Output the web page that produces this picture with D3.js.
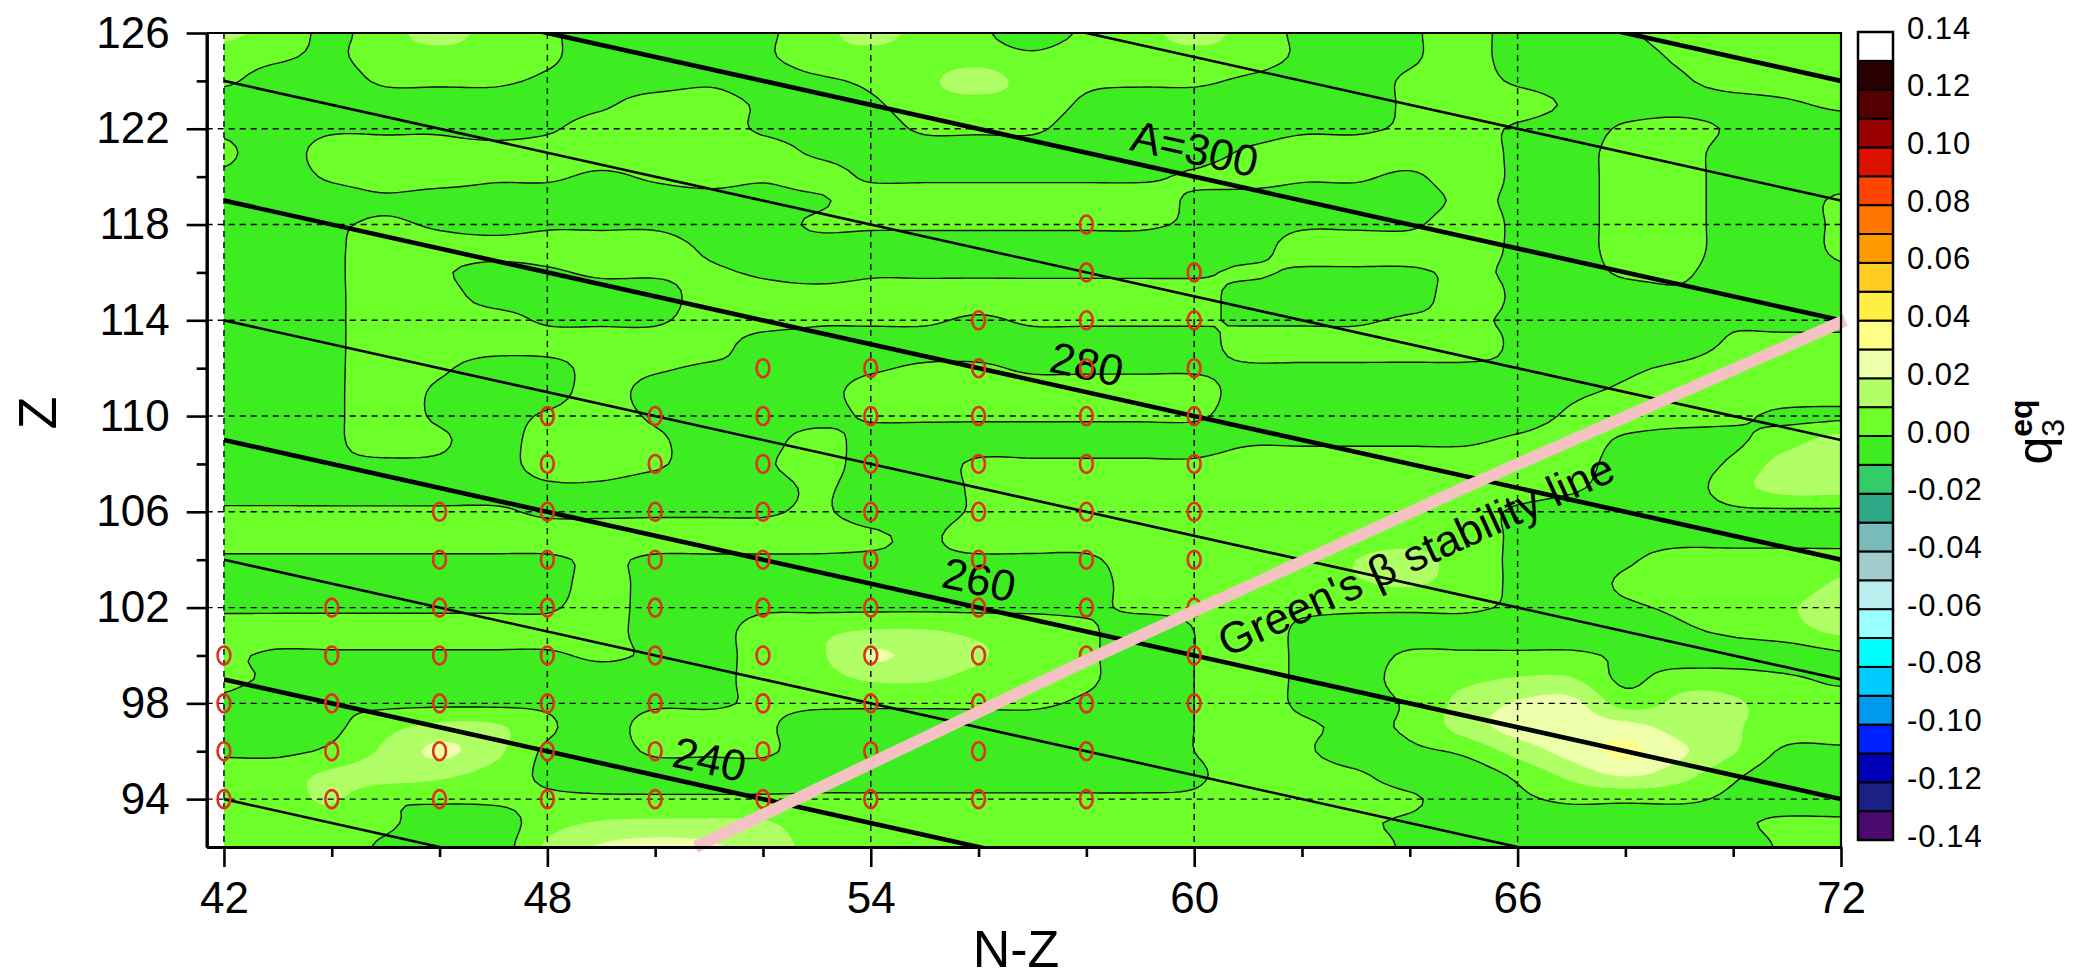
<!DOCTYPE html>
<html>
<head>
<meta charset="utf-8">
<script src="https://cdn.jsdelivr.net/npm/d3@7"></script>
<style>
  body { margin: 0; background: #fff; }
  svg { display: block; }
  text { font-family: "Liberation Sans", Arial, Helvetica, sans-serif; fill: #000; }
</style>
</head>
<body>
<svg id="chart" width="2073" height="979"></svg>
<script>
// ---- grid coordinates of the q3 map ----
const nzColumns = [42,43,44,45,46,47,48,49,50,51,52,53,54,55,56,57,58,59,60,61,62,63,64,65,66,67,68,69,70,71,72];
const zRows = [126,125,124,123,122,121,120,119,118,117,116,115,114,113,112,111,110,109,108,107,106,105,104,103,102,101,100,99,98,97,96,95,94,93,92];

// q3^eq on the (N-Z, Z) grid, in units of 0.001; one row per Z (top row Z = 126)
const q3Rows = [
  [12,6,-2,6,14,6,2,-6,-6,-6,-2,6,14,6,2, -6,2,6,14,6,-2,-6,-2,6,-6,-6,-2,6,6,6,6],
  [6,2,-2,6,6,6,2,-6,-6,-6,-2,6,6,6,6, 2,6,6,6,6,-2,-6,-2,6,-6,-6,-6,2,6,6,6],
  [2,-6,-6,2,2,2,-2,-6,-6,-2,-6,-2,2,8,14, 6,2,2,2,-2,-6,-6,2,6,-2,-6,-6,-2,6,6,6],
  [-6,-6,-6,-6,-6,-6,-6,-2,6,6,-2,-6,-2,6,6, 6,-2,-6,-6,-6,-6,-6,2,6,6,-2,-6,-6,-6,-2,2],
  [-2,-6,-2,-2,-2,-6,-2,6,2,6,-2,-6,-6,2,2, 2,-6,-6,-6,-6,-2,-2,2,6,-2,-6,2,6,-2,-6,-6],
  [2,-6,6,6,6,6,6,6,6,6,6,-2,-6,-6,-6, -6,-6,-6,-6,2,6,6,6,6,-2,-6,6,6,-6,-6,-6],
  [-2,-6,2,6,6,2,2,-2,2,6,2,6,-2,-2,-2, -2,-2,-2,2,6,2,2,-2,6,-2,-6,6,6,-6,-6,-6],
  [-6,-6,-6,-2,-6,-6,-6,-6,-6,-6,-6,-2,6,6,6, 6,6,6,-2,-6,-6,-6,-6,2,-2,-6,6,6,-6,-6,2],
  [-6,-6,-2,2,-2,-6,-2,-2,-2,-6,-6,2,2,2,2, 2,2,2,-2,-6,-2,-2,-2,6,-2,-6,6,6,-6,-6,2],
  [-6,-6,-2,6,6,6,6,6,6,-2,-6,-6,-6,-6,-6, -6,-6,-6,-6,-6,6,6,6,6,-2,-6,6,6,-6,-6,2],
  [-6,-6,-2,6,2,-6,-2,2,2,2,-2,-6,-2,-2,-2, -2,-2,-2,-2,2,-2,-2,-2,2,-2,-6,2,2,-6,-6,-2],
  [-6,-6,-2,6,6,-6,-6,-6,-6,6,6,6,6,6,6, 6,6,6,6,-6,-6,-6,-6,6,-2,-6,-6,-2,-6,-6,-6],
  [-6,-6,-2,6,6,6,-2,-2,-2,6,6,2,2,2,-2, 2,2,2,2,-2,-2,-2,2,2,-2,-6,-6,-6,-2,-6,-6],
  [-6,-6,-2,6,6,6,6,6,6,6,-6,-6,-6,-6,-6, -6,-6,-6,-6,6,6,6,6,6,-2,-6,-6,-6,2,6,6],
  [-6,-6,-2,6,2,-6,-6,6,2,-2,-2,-6,-2,2,2, -2,-2,-2,-2,-2,-2,-2,-2,-2,-2,-6,-2,2,6,6,6],
  [-6,-6,-2,6,-2,-6,-6,6,-6,-6,-6,-6,6,6,6, 6,6,6,6,-6,-6,-6,-6,-6,-6,-2,2,6,6,6,6],
  [-6,-6,-2,6,-2,-6,2,6,-2,-6,-6,-6,2,2,2, 2,2,2,2,-6,-6,-6,-6,-6,-6,2,6,6,2,-2,-2],
  [-6,-6,-2,6,2,-6,6,6,2,-6,-6,6,-6,-6,-6, -6,-6,-6,-6,-2,-2,-2,-2,-2,2,6,-2,-6,-2,6,14],
  [-6,-6,-2,-2,-2,-6,6,6,2,-6,-2,6,-6,-6,2, 2,2,2,2,6,6,6,6,6,6,6,-6,-6,2,14,16],
  [-6,-6,-6,-6,-6,-6,-2,-2,-6,-6,-6,2,-6,-6,2, 6,6,6,6,6,6,6,6,6,6,2,-6,-6,6,14,14],
  [2,2,2,2,2,2,-2,-2,-2,-2,-2,2,-6,-6,2, 6,6,6,6,6,6,6,6,6,-2,-6,-6,-6,-2,-2,-2],
  [6,6,6,6,6,6,6,6,6,6,6,6,2,-2,6, 6,6,6,6,6,6,6,6,6,-2,-6,-6,-6,-6,-6,-6],
  [-2,-2,-2,-2,-2,-2,-2,2,-2,-2,-2,-2,-2,-2,-2, -2,-2,6,6,6,6,10,13,6,-2,-6,-2,6,6,6,6],
  [-6,-6,-6,-6,-6,-6,-6,6,-6,-6,-6,-6,-6,-6,-6, -6,-6,6,6,6,6,9,11,6,-2,-6,2,6,6,6,11],
  [-2,-2,-2,-2,-2,-2,-2,6,-6,-6,-2,-2,-2,-2,-2, -2,-2,2,2,2,2,2,2,2,-2,-6,-2,2,6,9,14],
  [6,6,6,6,6,6,6,6,-6,-6,6,8,11,11,8, 6,2,-6,0,6,-2,-6,-6,-6,-6,-6,-6,-2,2,6,12],
  [2,-2,-2,-2,-2,-2,-2,2,-2,-6,6,8,21,16,11, 6,2,-6,0,6,-2,-6,2,2,2,2,-2,-6,-6,-6,-2],
  [2,-2,-6,-6,-6,-6,-6,-6,-6,-6,6,6,11,11,7, 6,2,-6,0,6,-2,-6,6,8,11,11,-2,6,6,2,-2],
  [-2,-6,-2,-2,-2,-2,-2,-6,-2,-2,2,2,2,2,2, 2,-2,-6,0,6,-2,-6,2,13,21,23,6,12,11,6,6],
  [-6,-6,-2,7,13,12,2,-6,6,6,2,-6,-6,-6,-6, -6,-6,-6,0,6,2,-2,2,14,24,25,24,16,11,6,6],
  [-2,-2,2,12,22,13,-2,-6,2,2,2,-6,-6,-6,-6, -6,-6,-6,0,6,2,-6,-2,2,14,24,32,22,11,-2,-2],
  [6,6,12,14,12,6,-2,-6,-6,-6,-6,-6,-6,-6,-6, -6,-6,-6,-2,6,6,2,-6,-6,2,13,21,14,2,-6,-6],
  [6,6,11,2,2,2,2,2,2,2,2,2,2,2,2, 2,2,2,2,6,6,6,2,-6,-2,2,2,2,-2,-6,-6],
  [6,6,6,2,-6,-6,6,11,12,12,11,6,6,6,6, 6,6,6,6,6,6,2,-2,-6,-6,-6,-6,-6,-2,2,2],
  [6,6,6,-2,-6,-6,12,21,24,22,14,8,6,6,6, 6,6,6,6,6,6,6,-2,-6,-6,-6,-6,-6,-6,2,6]
];

// colour scale: one colour per 0.01-wide level from -0.14 to 0.14
const levelColors = [
  "#4b0a6e","#1b2085","#0000b8","#0022ff","#0099ee","#00ccff","#00ffff",
  "#99ffff","#bbeeee","#a0cccc","#77bbbb","#2fa888","#33cc66","#3ded22",
  "#6cff2a","#b0ff66","#eeffaa","#ffff88","#ffee44","#ffcc22","#ff9900",
  "#ff7700","#ff4400","#dd1100","#990000","#550000","#2a0000","#ffffff"
];
const colorbarTicks = [-0.14,-0.12,-0.10,-0.08,-0.06,-0.04,-0.02,0.00,0.02,0.04,0.06,0.08,0.10,0.12,0.14];

// axes
const xMajorTicks = [42,48,54,60,66,72];
const xMinorTicks = [44,46,50,52,56,58,62,64,68,70];
const zMajorTicks = [94,98,102,106,110,114,118,122,126];
const zMinorTicks = [96,100,104,108,112,116,120,124];

// lines of constant mass number A = N + Z
const massNumbers = [230,240,250,260,270,280,290,300,310,320];
const massLabels = [
  { a: 300, nz: 59.9, text: "A=300" },
  { a: 280, nz: 57.9, text: "280" },
  { a: 260, nz: 55.9, text: "260" },
  { a: 240, nz: 50.9, text: "240" }
];

// Green's beta-stability line (N-Z, Z)
const greenLine = [[50.75, 92], [58.2, 100], [65.0, 107], [72.08, 114]];
const greenLabel = { nz: 63.8, text: "Green's \u03b2 stability line" };

// nuclei with computed q3: N-Z column and its Z values
const nucleiColumns = [
  { nz: 42, z: [94,96,98,100] },
  { nz: 44, z: [94,96,98,100,102] },
  { nz: 46, z: [94,96,98,100,102,104,106] },
  { nz: 48, z: [94,96,98,100,102,104,106,108,110] },
  { nz: 50, z: [94,96,98,100,102,104,106,108,110] },
  { nz: 52, z: [94,96,98,100,102,104,106,108,110,112] },
  { nz: 54, z: [94,96,98,100,102,104,106,108,110,112] },
  { nz: 56, z: [94,96,98,100,102,104,106,108,110,112,114] },
  { nz: 58, z: [94,96,98,100,102,104,106,108,110,112,114,116,118] },
  { nz: 60, z: [98,100,102,104,106,108,110,112,114,116] }
];

// ---------------------------------------------------------------
const svg = d3.select("#chart");
const x = d3.scaleLinear().domain([41.68, 72]).range([206.7, 1841]);
const y = d3.scaleLinear().domain([92, 126]).range([847, 33]);
const nzMin = nzColumns[0], nzMax = nzColumns[nzColumns.length - 1];
const zMax = zRows[0], zMin = zRows[zRows.length - 1];

const defs = svg.append("defs");
defs.append("clipPath").attr("id", "dataClip").append("rect")
  .attr("x", x(nzMin)).attr("y", y(zMax))
  .attr("width", x(nzMax) - x(nzMin)).attr("height", y(zMin) - y(zMax));

// smooth the grid with Catmull-Rom interpolation for drawing the filled contours
const nx = nzColumns.length, ny = zRows.length;
const FX = 8, FZ = 4;
const W = (nx - 1) * FX + 1, H = (ny - 1) * FZ + 1;
const cell = (i, j) => q3Rows[Math.max(0, Math.min(ny - 1, j))][Math.max(0, Math.min(nx - 1, i))] / 1000;
const cr = (p0, p1, p2, p3, t) =>
  0.5 * (2 * p1 + (-p0 + p2) * t + (2 * p0 - 5 * p1 + 4 * p2 - p3) * t * t + (-p0 + 3 * p1 - 3 * p2 + p3) * t * t * t);
const fine = new Float64Array(W * H);
for (let r = 0; r < H; r++) {
  const v = r / FZ; let j = Math.floor(v); if (j > ny - 2) j = ny - 2; const tz = v - j;
  for (let c = 0; c < W; c++) {
    const u = c / FX; let i = Math.floor(u); if (i > nx - 2) i = nx - 2; const tx = u - i;
    const col = [-1, 0, 1, 2].map(dj => cr(cell(i - 1, j + dj), cell(i, j + dj), cell(i + 1, j + dj), cell(i + 2, j + dj), tx));
    fine[r * W + c] = cr(col[0], col[1], col[2], col[3], tz);
  }
}
const thresholds = levelColors.map((_, k) => (k - 14) / 100);
const contours = d3.contours().size([W, H]).thresholds(thresholds)(fine);
const gridPath = d3.geoPath(d3.geoTransform({
  point(px, py) { this.stream.point(x(nzMin + (px - 0.5) / FX), y(zMax - (py - 0.5) / FZ)); }
}));

const gMap = svg.append("g").attr("clip-path", "url(#dataClip)");
gMap.selectAll("path.fill").data(contours).join("path")
  .attr("class", "fill")
  .attr("d", gridPath)
  .attr("fill", d => levelColors[Math.round(d.value * 100) + 14])
  .attr("stroke", "none");
gMap.selectAll("path.iso").data(contours.filter(d => Math.abs(d.value) < 1e-9)).join("path")
  .attr("class", "iso")
  .attr("d", gridPath)
  .attr("fill", "none").attr("stroke", "#111").attr("stroke-width", 1.4);

// dashed grid
const gGrid = svg.append("g").attr("stroke", "#000").attr("stroke-width", 1.4).attr("stroke-dasharray", "6,5");
gGrid.selectAll("line.h").data(zMajorTicks.filter(t => t < zMax)).join("line")
  .attr("x1", x.range()[0]).attr("x2", x.range()[1]).attr("y1", d => y(d)).attr("y2", d => y(d));
gGrid.selectAll("line.v").data(xMajorTicks.filter(t => t < nzMax)).join("line")
  .attr("y1", y.range()[1]).attr("y2", y.range()[0]).attr("x1", d => x(d)).attr("x2", d => x(d));

// mass-number lines
const gMass = svg.append("g").attr("clip-path", "url(#dataClip)");
gMass.selectAll("line").data(massNumbers).join("line")
  .attr("x1", x(nzMin)).attr("y1", a => y((a - nzMin) / 2))
  .attr("x2", x(nzMax)).attr("y2", a => y((a - nzMax) / 2))
  .attr("stroke", "#000").attr("stroke-width", a => a % 20 === 0 ? 4.6 : 2.6);

const massAngle = Math.atan2(y((300 - nzMax) / 2) - y((300 - nzMin) / 2), x(nzMax) - x(nzMin));
svg.append("g").selectAll("text").data(massLabels).join("text")
  .attr("transform", d => {
    const px = x(d.nz) + 12 * Math.sin(massAngle), py = y((d.a - d.nz) / 2) - 12 * Math.cos(massAngle);
    return `translate(${px},${py}) rotate(${massAngle * 180 / Math.PI})`;
  })
  .attr("text-anchor", "middle").attr("font-size", 44).text(d => d.text);

// nuclei markers
const nuclei = nucleiColumns.flatMap(c => c.z.map(z => ({ nz: c.nz, z })));
svg.append("g").selectAll("ellipse").data(nuclei).join("ellipse")
  .attr("cx", d => x(d.nz)).attr("cy", d => y(d.z)).attr("rx", 6.4).attr("ry", 9)
  .attr("fill", "none").attr("stroke", "#e0301a").attr("stroke-width", 2.6);

// Green's line and its label
svg.append("path").datum(greenLine)
  .attr("d", d3.line().x(d => x(d[0])).y(d => y(d[1])).curve(d3.curveMonotoneX))
  .attr("fill", "none").attr("stroke", "#f4c2c2").attr("stroke-width", 12);
{
  const seg = greenLine.findIndex((p, k) => k < greenLine.length - 1 && greenLine[k + 1][0] >= greenLabel.nz);
  const p0 = greenLine[seg], p1 = greenLine[seg + 1];
  const zAt = p0[1] + (greenLabel.nz - p0[0]) / (p1[0] - p0[0]) * (p1[1] - p0[1]);
  const ang = Math.atan2(y(p1[1]) - y(p0[1]), x(p1[0]) - x(p0[0]));
  const off = 56;
  const px = x(greenLabel.nz) - off * Math.sin(ang), py = y(zAt) + off * Math.cos(ang);
  svg.append("text")
    .attr("transform", `translate(${px},${py}) rotate(${ang * 180 / Math.PI})`)
    .attr("text-anchor", "middle").attr("font-size", 44).text(greenLabel.text);
}

// axes
const tickStyle = g => {
  g.select(".domain").attr("stroke", "#000").attr("stroke-width", 3);
  g.selectAll(".tick line").attr("stroke", "#000").attr("stroke-width", 2.6);
  g.selectAll(".tick text").attr("font-size", 44).attr("font-family", "Liberation Sans, Arial, sans-serif");
};
svg.append("g").attr("transform", `translate(0,${y.range()[0]})`)
  .call(d3.axisBottom(x).tickValues(xMinorTicks).tickSize(10).tickSizeOuter(0).tickFormat(""))
  .call(tickStyle);
svg.append("g").attr("transform", `translate(0,${y.range()[0]})`)
  .call(d3.axisBottom(x).tickValues(xMajorTicks).tickSize(20).tickSizeOuter(0).tickPadding(15).tickFormat(d3.format("d")))
  .call(tickStyle);
svg.append("g").attr("transform", `translate(${x.range()[0]},0)`)
  .call(d3.axisLeft(y).tickValues(zMinorTicks).tickSize(10).tickSizeOuter(0).tickFormat(""))
  .call(tickStyle);
svg.append("g").attr("transform", `translate(${x.range()[0]},0)`)
  .call(d3.axisLeft(y).tickValues(zMajorTicks).tickSize(20).tickSizeOuter(0).tickPadding(17).tickFormat(d3.format("d")))
  .call(tickStyle);
// top and right frame
svg.append("path")
  .attr("d", `M${x.range()[0]},${y.range()[1]}H${x.range()[1]}V${y.range()[0]}`)
  .attr("fill", "none").attr("stroke", "#000").attr("stroke-width", 2.2);

svg.append("text").attr("x", 1016).attr("y", 967)
  .attr("text-anchor", "middle").attr("font-size", 52).text("N-Z");
svg.append("text").attr("transform", "translate(56,413) rotate(-90)")
  .attr("text-anchor", "middle").attr("font-size", 54).text("Z");

// colour bar
const cb = d3.scaleLinear().domain([-0.14, 0.14]).range([840, 32]);
const gCb = svg.append("g");
gCb.selectAll("rect").data(levelColors).join("rect")
  .attr("x", 1858).attr("width", 35)
  .attr("y", (_, k) => cb((k - 13) / 100)).attr("height", (_, k) => cb((k - 14) / 100) - cb((k - 13) / 100))
  .attr("fill", c => c).attr("stroke", "#000").attr("stroke-width", 2);
gCb.append("rect").attr("x", 1858).attr("y", cb(0.14)).attr("width", 35).attr("height", cb(-0.14) - cb(0.14))
  .attr("fill", "none").attr("stroke", "#000").attr("stroke-width", 2.5);
gCb.selectAll("text").data(colorbarTicks).join("text")
  .attr("x", 1907).attr("y", v => cb(v) - 4)
  .attr("dominant-baseline", "central").attr("font-size", 31).attr("letter-spacing", 1)
  .text(v => (v < -1e-9 ? "-" : "") + Math.abs(v).toFixed(2));

const title = svg.append("text").attr("transform", "translate(2052,432) rotate(-90)")
  .attr("text-anchor", "middle").attr("font-size", 50);
title.append("tspan").text("q");
title.append("tspan").attr("font-size", 32).attr("dy", 12).text("3");
title.append("tspan").attr("font-size", 32).attr("font-weight", "bold").attr("dx", -18).attr("dy", -32).text("eq");
</script>
</body>
</html>
